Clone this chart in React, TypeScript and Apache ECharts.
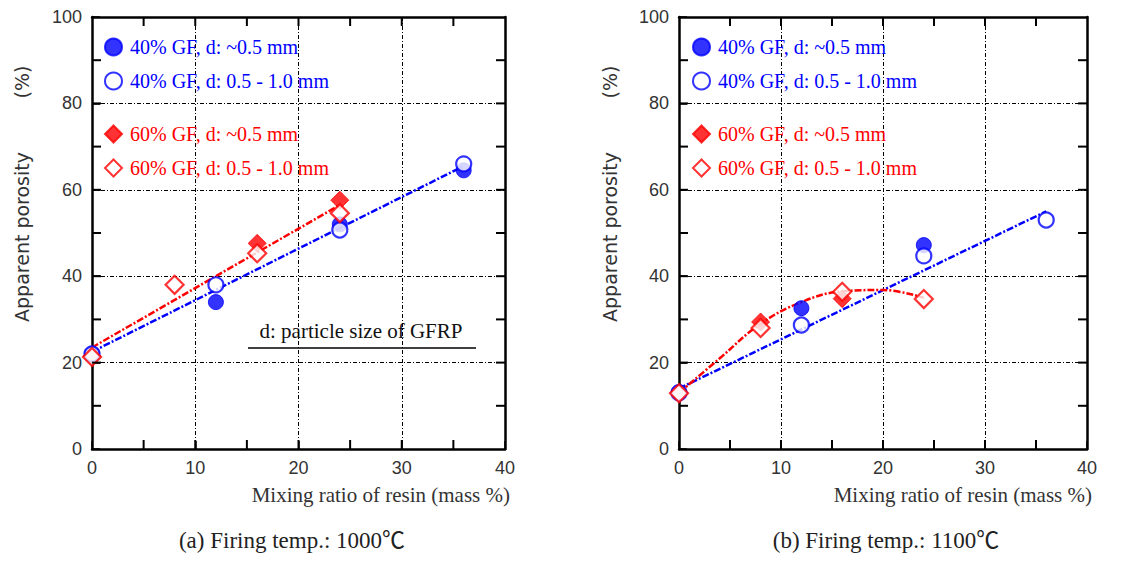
import React, { useEffect, useRef } from "react";
import * as echarts from "echarts";

// ---- Data ----
const xTickLabels = [0, 10, 20, 30, 40];
const yTickLabels = [0, 20, 40, 60, 80, 100];
const xFrameTicks = [5, 10, 15, 20, 25, 30, 35];
const yFrameTicks = [10, 20, 30, 40, 50, 60, 70, 80, 90];

const seriesNames = [
  "40% GF, d: ~0.5 mm",
  "40% GF, d: 0.5 - 1.0 mm",
  "60% GF, d: ~0.5 mm",
  "60% GF, d: 0.5 - 1.0 mm",
];

// (a) 1000 C
const aBlueFilledX = [0, 12, 24, 36];
const aBlueFilledY = [22, 34, 52, 64.5];
const aBlueOpenX = [0, 12, 24, 36];
const aBlueOpenY = [22, 38, 50.7, 66];
const aRedFilledX = [0, 16, 24];
const aRedFilledY = [21.5, 47.6, 57.6];
const aRedOpenX = [0, 8, 16, 24];
const aRedOpenY = [21.3, 38, 45.3, 54.6];
const aBlueFitX = [0, 36];
const aBlueFitY = [22.5, 65.5];
const aRedFitX = [0, 24];
const aRedFitY = [23.5, 56.5];

// (b) 1100 C
const bBlueFilledX = [0, 12, 24];
const bBlueFilledY = [13.2, 32.6, 47.2];
const bBlueOpenX = [0, 12, 24, 36];
const bBlueOpenY = [13, 28.7, 44.7, 53];
const bRedFilledX = [0, 8, 16];
const bRedFilledY = [13, 29.4, 34.8];
const bRedOpenX = [0, 8, 16, 24];
const bRedOpenY = [12.9, 28, 36.4, 34.7];
const bBlueFitX = [0, 36];
const bBlueFitY = [14, 55];
const bRedFitX = [0, 4, 8, 12, 16, 20, 24];
const bRedFitY = [13, 21, 29, 34, 36.5, 36.8, 35];

const captions = ["(a) Firing temp.: 1000℃", "(b) Firing temp.: 1100℃"];

const BLUE = "#0000ff";
const RED = "#ff0000";

const pairs = (xs: number[], ys: number[]) => xs.map((x, i) => [x, ys[i]]);

export default function App() {
  const ref = useRef<HTMLDivElement>(null);

  useEffect(() => {
    if (!ref.current) return;
    const chart = echarts.init(ref.current, null, { renderer: "svg" });

    const grids = [
      { left: 92, top: 17, width: 413, height: 432 },
      { left: 679, top: 17, width: 408, height: 432 },
    ];

    const axisLine = () => ({ show: true, onZero: false, lineStyle: { color: "#000", width: 2.5 } });
    const tick = () => ({ show: true, inside: true, length: 8, lineStyle: { color: "#000", width: 1.5 } });
    const split = () => ({ show: true, lineStyle: { color: "#000", width: 1, type: [4, 2, 1, 2] } });
    const tickLabel = () => ({ show: true, color: "#333", fontSize: 18, fontFamily: "Liberation Sans", margin: 10 });
    const xMin = xTickLabels[0];
    const xMax = xTickLabels[xTickLabels.length - 1];
    const yMin = yTickLabels[0];
    const yMax = yTickLabels[yTickLabels.length - 1];

    const xAxes: any[] = [];
    const yAxes: any[] = [];
    [0, 1].forEach((g) => {
      xAxes.push({
        type: "value", gridIndex: g, min: xMin, max: xMax, interval: 10, position: "bottom",
        axisLine: axisLine(), axisTick: tick(), axisLabel: tickLabel(), splitLine: split(),
      });
      xAxes.push({
        type: "value", gridIndex: g, min: xMin, max: xMax, interval: 10, position: "top",
        axisLine: axisLine(), axisTick: { show: false }, axisLabel: { show: false }, splitLine: { show: false },
      });
      yAxes.push({
        type: "value", gridIndex: g, min: yMin, max: yMax, interval: 20, position: "left",
        axisLine: axisLine(), axisTick: tick(), axisLabel: tickLabel(), splitLine: split(),
      });
      yAxes.push({
        type: "value", gridIndex: g, min: yMin, max: yMax, interval: 20, position: "right",
        axisLine: axisLine(), axisTick: { show: false }, axisLabel: { show: false }, splitLine: { show: false },
      });
    });

    // frame ticks drawn as thin bar-like symbols through the axes' scales
    const TL = 9;
    const tickMarks = (g: number, data: number[][], size: number[], offset: number[]) => ({
      type: "scatter", xAxisIndex: g * 2, yAxisIndex: g * 2, data, silent: true, clip: false, z: 10,
      symbol: "rect", symbolSize: size, symbolOffset: offset,
      itemStyle: { color: "#000000", opacity: 1, borderWidth: 0 },
    });
    const frameTicks = (g: number) => [
      tickMarks(g, xFrameTicks.map((v) => [v, yMin]), [2, TL], [0, -TL / 2]),
      tickMarks(g, xFrameTicks.map((v) => [v, yMax]), [2, TL], [0, TL / 2]),
      tickMarks(g, yFrameTicks.map((v) => [xMin, v]), [TL, 2], [TL / 2, 0]),
      tickMarks(g, yFrameTicks.map((v) => [xMax, v]), [TL, 2], [-TL / 2, 0]),
    ];

    const scatter = (name: string, xs: number[], ys: number[], g: number, symbol: string, filled: boolean, color: string, z: number) => ({
      type: "scatter", name, xAxisIndex: g * 2, yAxisIndex: g * 2, data: pairs(xs, ys),
      symbol, symbolSize: symbol === "diamond" ? 18 : 15, z,
      itemStyle: filled ? { color, borderColor: color, borderWidth: 1 } : { color: "#fff", borderColor: color, borderWidth: 2.2 },
    });
    const fit = (xs: number[], ys: number[], g: number, color: string, smooth: boolean) => ({
      type: "line", xAxisIndex: g * 2, yAxisIndex: g * 2, data: pairs(xs, ys), showSymbol: false, symbol: "none",
      smooth: smooth ? 0.4 : false, z: 3, silent: true,
      lineStyle: { color, width: 2.5, type: [7, 2, 2, 2] },
    });

    const series: any[] = [
      fit(aBlueFitX, aBlueFitY, 0, BLUE, false),
      fit(aRedFitX, aRedFitY, 0, RED, false),
      scatter(seriesNames[0], aBlueFilledX, aBlueFilledY, 0, "circle", true, BLUE, 4),
      scatter(seriesNames[1], aBlueOpenX, aBlueOpenY, 0, "circle", false, BLUE, 5),
      scatter(seriesNames[2], aRedFilledX, aRedFilledY, 0, "diamond", true, RED, 4),
      scatter(seriesNames[3], aRedOpenX, aRedOpenY, 0, "diamond", false, RED, 5),
      fit(bBlueFitX, bBlueFitY, 1, BLUE, false),
      fit(bRedFitX, bRedFitY, 1, RED, true),
      scatter(seriesNames[0], bBlueFilledX, bBlueFilledY, 1, "circle", true, BLUE, 4),
      scatter(seriesNames[1], bBlueOpenX, bBlueOpenY, 1, "circle", false, BLUE, 5),
      scatter(seriesNames[2], bRedFilledX, bRedFilledY, 1, "diamond", true, RED, 4),
      scatter(seriesNames[3], bRedOpenX, bRedOpenY, 1, "diamond", false, RED, 5),
      ...frameTicks(0),
      ...frameTicks(1),
    ];

    const legendBase = {
      orient: "vertical", padding: 0, itemGap: 14, itemWidth: 17, itemHeight: 17, selectedMode: false,
      textStyle: { fontFamily: "Liberation Serif", fontSize: 20, lineHeight: 20, padding: [0, 0, 0, 3] },
    };
    const legends = [
      { ...legendBase, left: 104, top: 37, data: [0, 1].map((i) => ({ name: seriesNames[i], textStyle: { color: BLUE } })) },
      { ...legendBase, left: 104, top: 124, data: [2, 3].map((i) => ({ name: seriesNames[i], textStyle: { color: RED } })) },
      { ...legendBase, left: 692, top: 37, data: [0, 1].map((i) => ({ name: seriesNames[i], textStyle: { color: BLUE } })) },
      { ...legendBase, left: 692, top: 124, data: [2, 3].map((i) => ({ name: seriesNames[i], textStyle: { color: RED } })) },
    ];

    const yName = (x: number) => [
      {
        type: "text", x, y: 237, rotation: Math.PI / 2,
        style: { text: "Apparent porosity", fontFamily: "DejaVu Sans", fontSize: 19, fill: "#333", align: "center", verticalAlign: "middle" },
      },
      {
        type: "text", x, y: 82, rotation: Math.PI / 2,
        style: { text: "(%)", fontFamily: "DejaVu Sans", fontSize: 19, fill: "#333", align: "center", verticalAlign: "middle" },
      },
    ];
    const xName = (x: number) => ({
      type: "text", x, y: 495,
      style: { text: "Mixing ratio of resin (mass %)", fontFamily: "Liberation Serif", fontSize: 21, fill: "#333", align: "right", verticalAlign: "middle" },
    });
    const caption = (x: number, t: string) => ({
      type: "text", x, y: 540,
      style: { text: t, fontFamily: "Liberation Serif, Noto Sans CJK SC", fontSize: 23, fill: "#222", align: "center", verticalAlign: "middle" },
    });

    chart.setOption({
      animation: false,
      grid: grids,
      xAxis: xAxes,
      yAxis: yAxes,
      legend: legends,
      series,
      graphic: [
        ...yName(22),
        ...yName(610),
        xName(510),
        xName(1092),
        caption(292, captions[0]),
        caption(886, captions[1]),
        {
          type: "text", x: 361, y: 331,
          style: { text: "d: particle size of GFRP", fontFamily: "Liberation Serif", fontSize: 21, fill: "#111", align: "center", verticalAlign: "middle" },
        },
        { type: "line", shape: { x1: 248, y1: 348, x2: 476, y2: 348 }, style: { stroke: "#000", lineWidth: 1.5 } },
      ],
    });

    return () => chart.dispose();
  }, []);

  return (
    <div
      ref={ref}
      style={{ position: "absolute", left: 0, top: 0, width: 1146, height: 561, background: "#fff" }}
    />
  );
}
